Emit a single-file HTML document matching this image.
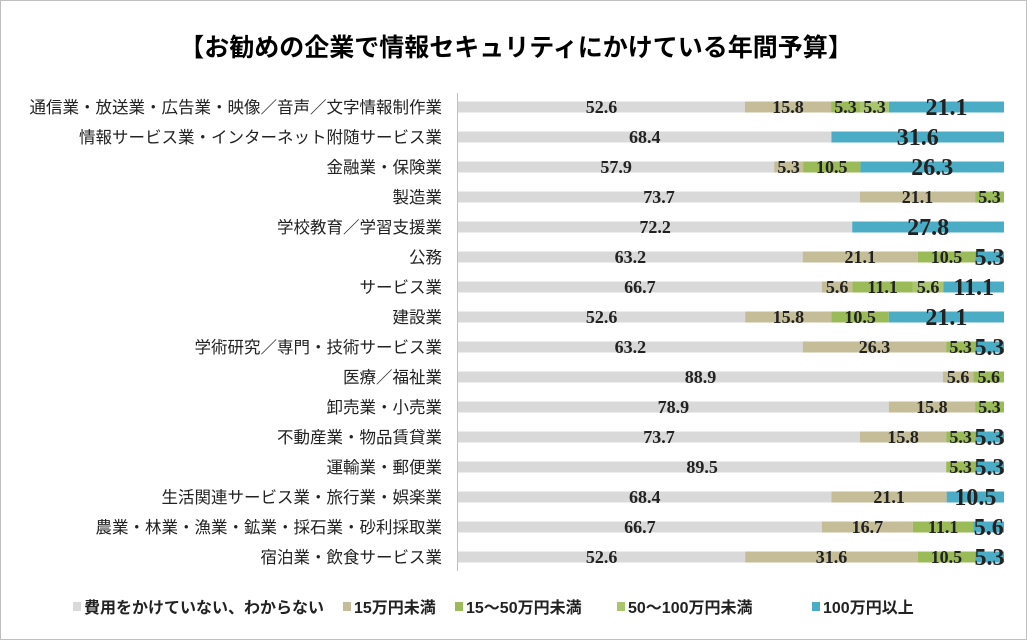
<!DOCTYPE html>
<html><head><meta charset="utf-8"><style>
body{margin:0;background:#fff}
#c{position:relative;width:1025px;height:638px;border:1px solid #bfbfbf;overflow:hidden;font-family:"Liberation Sans","Noto Sans CJK JP",sans-serif}
</style></head><body>
<div id="c">
<svg id="s" width="1025" height="638">
<text x="515" y="55" text-anchor="middle" font-size="25" font-weight="bold" font-family="Liberation Sans,Noto Sans CJK JP,sans-serif">【お勧めの企業で情報セキュリティにかけている年間予算】</text>
<line x1="456.5" y1="92" x2="456.5" y2="570" stroke="#bfbfbf"/>
</svg>
</div>
<script>
const categories=["通信業・放送業・広告業・映像／音声／文字情報制作業","情報サービス業・インターネット附随サービス業","金融業・保険業","製造業","学校教育／学習支援業","公務","サービス業","建設業","学術研究／専門・技術サービス業","医療／福祉業","卸売業・小売業","不動産業・物品賃貸業","運輸業・郵便業","生活関連サービス業・旅行業・娯楽業","農業・林業・漁業・鉱業・採石業・砂利採取業","宿泊業・飲食サービス業"];
const seriesNames=["費用をかけていない、わからない","15万円未満","15～50万円未満","50～100万円未満","100万円以上"];
const none=[52.6,68.4,57.9,73.7,72.2,63.2,66.7,52.6,63.2,88.9,78.9,73.7,89.5,68.4,66.7,52.6];
const under15=[15.8,0,5.3,21.1,0,21.1,5.6,15.8,26.3,5.6,15.8,15.8,0,21.1,16.7,31.6];
const r15to50=[5.3,0,10.5,5.3,0,10.5,11.1,10.5,5.3,5.6,5.3,5.3,5.3,0,11.1,10.5];
const r50to100=[5.3,0,0,0,0,0,5.6,0,0,0,0,0,0,0,0,0];
const over100=[21.1,31.6,26.3,0,27.8,5.3,11.1,21.1,5.3,0,0,5.3,5.3,10.5,5.6,5.3];
const series=[none,under15,r15to50,r50to100,over100];
const colors=["#d9d9d9","#c4bd97","#9bbb59","#a9c66e","#4bacc6"];
const segNames=["none","under-15","15-50","50-100","over-100"];
const svg=document.getElementById('s');const NS="http://www.w3.org/2000/svg";
const x0=457,pw=546,y0=106,step=30,bh=11;
const xs=v=>v/100*pw; const ys=i=>y0+i*step;
function mk(t,a){const e=document.createElementNS(NS,t);for(const k in a)e.setAttribute(k,a[k]);svg.appendChild(e);return e;}
categories.forEach((c,i)=>{
 const t=mk('text',{x:441,y:ys(i)+6,'text-anchor':'end','font-size':16.5,fill:'#222'});t.textContent=c;
 
 
 let tot=0;series.forEach(s=>tot+=s[i]);
 let acc=0;
 series.forEach((s,k)=>{const v=s[i];if(!v)return;
  const x=x0+xs(acc/tot*100),w=xs(v/tot*100);
  const r=mk('rect',{x:x,y:ys(i)-bh/2,width:w,height:bh,fill:colors[k]});
  
  
  const big=k==4;
  const l=mk('text',{x:x+w/2,y:ys(i)+(big?8:6),'text-anchor':'middle','font-size':big?24:18,'font-weight':'bold','font-family':'Liberation Serif,serif',fill:'#222'});
  l.textContent=v.toFixed(1);
  
  
  acc+=v;});
});
const lx=[72,342,454,616,811];
seriesNames.forEach((n,k)=>{
 const r=mk('rect',{x:lx[k],y:601,width:8,height:9,fill:colors[k]});
 
 
 const t=mk('text',{x:lx[k]+11,y:612,'font-size':16,'font-weight':'bold',fill:'#222'});t.textContent=n;
 
 
});
</script>
</body></html>
